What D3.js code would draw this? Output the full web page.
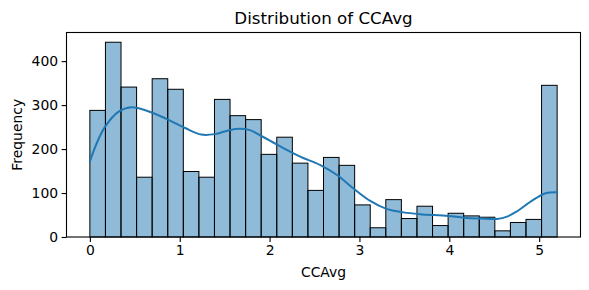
<!DOCTYPE html>
<html>
<head>
<meta charset="utf-8">
<script src="https://cdn.jsdelivr.net/npm/d3@7"></script>
<style>
  body { margin: 0; background: #fff; }
  svg { display: block; font-family: "DejaVu Sans", sans-serif; }
</style>
</head>
<body>
<svg id="chart"></svg>
<script>
// histogram counts, 30 equal bins between 0 and 5.2
const binRange = [0, 5.2];
const counts = [288, 443, 341, 136, 360, 336, 149, 136, 313, 276,
                267, 188, 227, 168, 106, 181, 163, 73, 21, 85,
                42, 70, 26, 54, 48, 45, 14, 33, 40, 345];

// kde curve (x in CCAvg, y in counts)
const kdeX = [0, 0.08, 0.17, 0.32, 0.46, 0.61, 0.84, 1.06, 1.24, 1.39, 1.55, 1.67, 1.78, 1.89,
              2.12, 2.34, 2.56, 2.75, 2.93, 3.12, 3.30, 3.49, 3.67, 3.99, 4.16, 4.35, 4.53,
              4.65, 4.75, 4.93, 5.08, 5.2];
const kdeY = [172, 215, 251, 285, 295, 289, 270, 248, 233, 234, 243, 246, 243, 232,
              206, 183, 164, 141, 111, 82, 64, 56, 52, 48, 44, 42, 41,
              47, 58, 84, 100, 102];

const xTicks = [0, 1, 2, 3, 4, 5];
const yTicks = [0, 100, 200, 300, 400];

const width = 589, height = 290;
const margin = {top: 32.5, right: 8.5, bottom: 53, left: 66.5};
const innerW = width - margin.left - margin.right;
const innerH = height - margin.top - margin.bottom;

const svg = d3.select("#chart")
    .attr("width", width)
    .attr("height", height);

const g = svg.append("g")
    .attr("transform", "translate(" + margin.left + "," + margin.top + ")");

const span = binRange[1] - binRange[0];
const x = d3.scaleLinear()
    .domain([binRange[0] - span * 0.05, binRange[1] + span * 0.05])
    .range([0, innerW]);

const y = d3.scaleLinear()
    .domain([0, d3.max(counts) * 1.05])
    .range([innerH, 0]);

const binW = span / counts.length;
const bins = counts.map((c, i) => ({x0: binRange[0] + i * binW, x1: binRange[0] + (i + 1) * binW, n: c}));

// bars
g.selectAll("rect.bar")
    .data(bins)
    .enter()
    .append("rect")
    .attr("class", "bar")
    .attr("x", d => x(d.x0))
    .attr("y", d => y(d.n))
    .attr("width", d => x(d.x1) - x(d.x0))
    .attr("height", d => y(0) - y(d.n))
    .attr("fill", "rgba(31,119,180,0.5)")
    .attr("stroke", "#000")
    .attr("stroke-width", 1);

// kde line
const kde = kdeX.map((v, i) => [v, kdeY[i]]);
g.append("path")
    .datum(kde)
    .attr("fill", "none")
    .attr("stroke", "#1f77b4")
    .attr("stroke-width", 2)
    .attr("stroke-linecap", "round")
    .attr("d", d3.line()
        .x(d => x(d[0]))
        .y(d => y(d[1]))
        .curve(d3.curveCatmullRom.alpha(0.5)));

// axes
const xAxis = g.append("g")
    .attr("transform", "translate(0," + innerH + ")")
    .call(d3.axisBottom(x).tickValues(xTicks).tickFormat(d3.format("d")).tickSize(4.9).tickPadding(3.5));
const yAxis = g.append("g")
    .call(d3.axisLeft(y).tickValues(yTicks).tickFormat(d3.format("d")).tickSize(4.9).tickPadding(3.5));

[xAxis, yAxis].forEach(a => {
    a.select(".domain").remove();
    a.selectAll("line").attr("stroke", "#000").attr("stroke-width", 1.1);
    a.selectAll("text").attr("font-size", 13.9).attr("fill", "#000")
        .attr("font-family", "DejaVu Sans, sans-serif");
});

// frame
g.append("rect")
    .attr("width", innerW)
    .attr("height", innerH)
    .attr("fill", "none")
    .attr("stroke", "#000")
    .attr("stroke-width", 1.1);

// labels
svg.append("text")
    .attr("x", margin.left + innerW / 2)
    .attr("y", 24)
    .attr("text-anchor", "middle")
    .attr("font-size", 16.7)
    .text("Distribution of CCAvg");

svg.append("text")
    .attr("x", margin.left + innerW / 2)
    .attr("y", 277)
    .attr("text-anchor", "middle")
    .attr("font-size", 13.9)
    .text("CCAvg");

svg.append("text")
    .attr("transform", "translate(22," + (margin.top + innerH / 2) + ") rotate(-90)")
    .attr("text-anchor", "middle")
    .attr("font-size", 13.9)
    .text("Frequency");
</script>
</body>
</html>
